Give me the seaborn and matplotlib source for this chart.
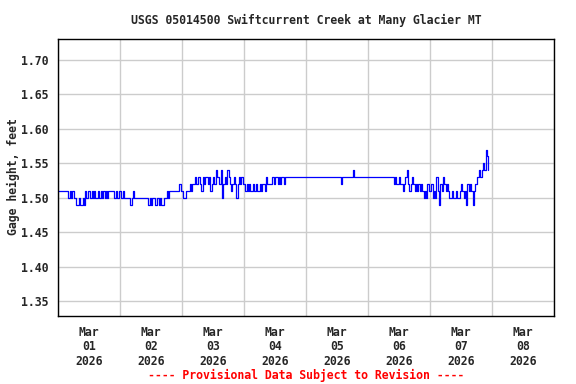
import matplotlib
matplotlib.use('Agg')
import matplotlib.pyplot as plt
import matplotlib.dates as mdates
import numpy as np
import pandas as pd
import seaborn as sns

# gage height readings, hundredths of a foot, every 30 min starting Mar 01 00:00
mar01 = [151] * 8 + [150, 151, 150, 151, 150,
                     150, 149, 149, 150, 149, 149, 150, 149,
                     151, 150, 151, 151, 150, 151, 150, 151, 150, 150, 151, 150, 151, 150, 151, 150, 151, 150,
                     151, 151, 151, 151, 150, 150, 151, 150, 151]
mar02 = [151, 150, 151, 150, 150, 150, 150, 150, 149, 150, 151] + [150] * 11 + \
        [149, 150, 149, 150, 150, 149, 149, 150, 149, 150, 149, 149, 150, 150,
         151, 150, 151] + [151] * 7 + [152, 151]
mar03 = [151, 150, 150, 151, 151, 151, 152, 151, 152,
         152, 153, 152, 153, 153, 152, 151, 153, 152, 153, 153, 152, 153, 151, 152, 153, 152,
         154, 153, 153, 152, 154, 150, 152, 153, 152, 154, 153,
         152, 151, 152, 153, 152, 150, 152, 153, 152, 153, 152]
mar04 = [152, 151, 152, 151, 152, 151, 151, 152, 151, 152, 151, 151, 152, 151, 152, 152, 151,
         153, 152, 152, 152, 152,
         153, 152, 153, 153, 152, 153, 152, 153, 153, 152, 153] + [153] * 15
mar05 = [153] * 27 + [152] + [153] * 8 + [154] + [153] * 11
mar06 = [153] * 20 + [152, 153, 152, 152, 153, 152, 152, 151, 152, 153, 154,
                      152, 151, 152, 153, 152, 151, 152, 151, 152, 151, 152, 151, 150, 151, 150, 152, 151]
mar07 = [151, 152, 150, 151, 150, 153, 151, 149, 152, 151, 153, 152,
         151, 152, 151, 150, 150, 151, 150, 150, 151, 150, 150, 151,
         152, 151, 150, 151, 149, 152, 151, 152, 151, 149,
         151, 152, 153, 153, 154, 153, 154, 155, 154, 157, 156, 154]

heights = np.array(mar01 + mar02 + mar03 + mar04 + mar05 + mar06 + mar07) / 100.0
times = pd.date_range('2026-03-01 00:00', periods=len(heights), freq='30min')
df = pd.DataFrame({'time': times, 'gage': heights})

sns.set_style('white')
plt.rcParams['font.family'] = ['DejaVu Sans Mono']
plt.rcParams['font.weight'] = 'bold'

fig = plt.figure(figsize=(5.76, 3.84), dpi=100)
ax = fig.add_axes([58 / 576, 1 - 316 / 384, 496 / 576, 277 / 384])

sns.lineplot(data=df, x='time', y='gage', color='#0000ff', lw=0.9,
             drawstyle='steps-post', ax=ax)

ax.set_xlim(pd.Timestamp('2026-03-01'), pd.Timestamp('2026-03-09'))
ax.set_ylim(1.329, 1.730)
ax.set_yticks([1.35, 1.40, 1.45, 1.50, 1.55, 1.60, 1.65, 1.70])
ax.yaxis.set_major_formatter(plt.FuncFormatter(lambda v, p: f'{v:.2f}'))

ax.xaxis.set_major_locator(mdates.HourLocator(byhour=12))
ax.xaxis.set_major_formatter(mdates.DateFormatter('%b\n%d\n%Y'))
ax.xaxis.set_minor_locator(mdates.DayLocator())

ax.grid(True, which='minor', axis='x', color='#cccccc', lw=1)
ax.grid(True, which='major', axis='y', color='#cccccc', lw=1)
ax.grid(False, which='major', axis='x')
ax.set_axisbelow(True)

ax.tick_params(axis='both', which='both', length=0, labelsize=8.3)
ax.tick_params(axis='x', pad=7)
ax.tick_params(axis='y', pad=7)
for lab in ax.get_xticklabels():
    lab.set_linespacing(1.15)
    lab.set_fontweight('bold')
for lab in ax.get_yticklabels():
    lab.set_fontweight('bold')

for s in ax.spines.values():
    s.set_color('black')
    s.set_linewidth(1)

ax.set_xlabel('')
ax.set_ylabel('')
fig.text(13 / 576, 1 - 177 / 384, 'Gage height, feet', rotation=90,
         ha='center', va='center', fontsize=8.3, fontweight='bold')
fig.text(306 / 576, 1 - 20 / 384, 'USGS 05014500 Swiftcurrent Creek at Many Glacier MT',
         ha='center', va='center', fontsize=8.3, fontweight='bold')
fig.text(306 / 576, 1 - 375 / 384, '---- Provisional Data Subject to Revision ----',
         ha='center', va='center', fontsize=8.3, fontweight='bold', color='red')

fig.savefig('out.png', dpi=100)
